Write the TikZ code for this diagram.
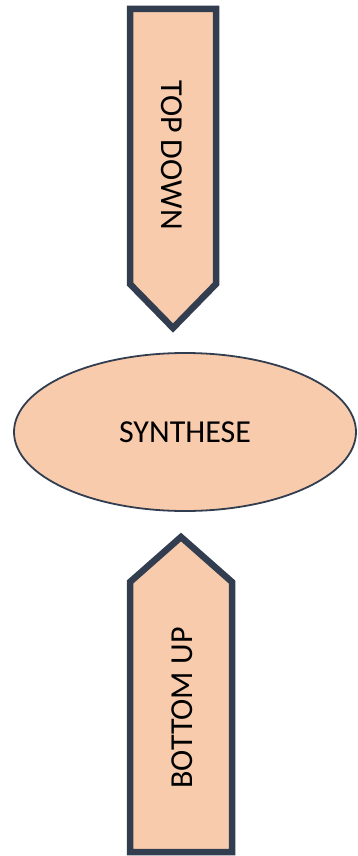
\documentclass[tikz,border=0pt]{standalone}
\usepackage{fontspec}
\setmainfont{Carlito}
\usepackage{tikz}
\usetikzlibrary{shapes.geometric, positioning}
\definecolor{peach}{HTML}{F8CBAD}
\definecolor{slate}{HTML}{323E4F}

\begin{document}
\begin{tikzpicture}[x=1pt, y=-1pt,
  arrowbox/.style={fill=peach, draw=slate, line width=6.5pt, line join=miter},
  arrowtext/.style={font=\fontsize{32}{32}\selectfont, inner sep=0pt},
  synthbox/.style={ellipse, fill=peach, draw=slate, line width=1.8pt,
                   minimum width=342pt, minimum height=158pt, inner sep=0pt,
                   font=\fontsize{32}{32}\selectfont}]
\useasboundingbox (0,0) rectangle (357,856);
%
% top down arrow
\draw[arrowbox] (130,9) -- (216,9) -- (216,284) -- (173,328) -- (130,284) -- cycle;
\node[arrowtext, rotate=-90] (top) at (172,155) {TOP DOWN};
%
% synthese
\node[synthbox] (synth) at (185,432) {SYNTHESE};
%
% bottom up arrow
\draw[arrowbox] (181,537) -- (232,582) -- (232,852) -- (130,852) -- (130,582) -- cycle;
\node[arrowtext, rotate=90] (bottom) at (182,708) {BOTTOM UP};
%
\end{tikzpicture}
\end{document}
